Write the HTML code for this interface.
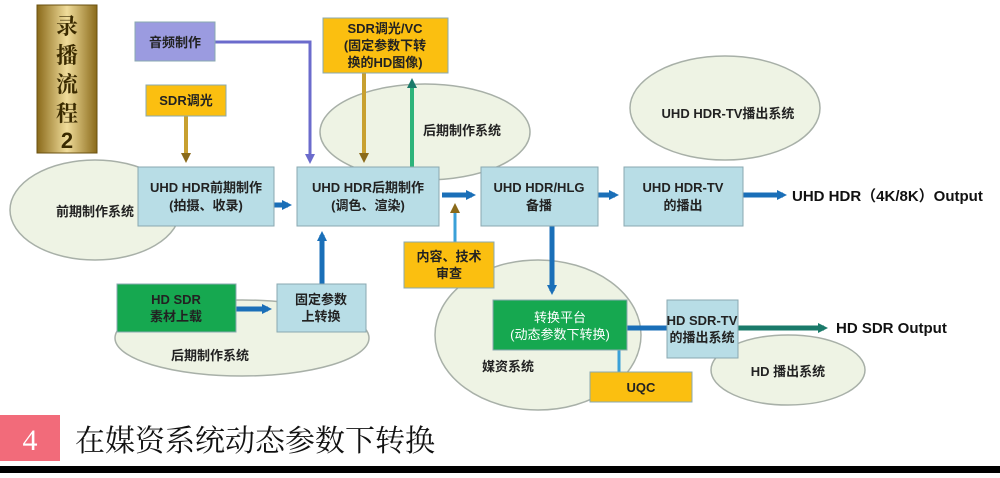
<!DOCTYPE html>
<html><head><meta charset="utf-8"><style>
body{margin:0;background:#fff;width:1000px;height:473px;overflow:hidden}
text{font-family:"Liberation Sans","Noto Sans CJK SC",sans-serif;font-weight:bold}
</style></head><body>
<svg width="1000" height="473" viewBox="0 0 1000 473" xmlns="http://www.w3.org/2000/svg">
<defs>
<linearGradient id="gold" x1="0" x2="1"><stop offset="0" stop-color="#8a6a1a"/><stop offset="0.5" stop-color="#f0dc9a"/><stop offset="1" stop-color="#8a6a1a"/></linearGradient>
<marker id="ab" markerWidth="10" markerHeight="10" refX="6" refY="5" orient="auto" markerUnits="userSpaceOnUse"><path d="M0,0L10,5L0,10z" fill="#1a6fb8"/></marker>
<marker id="ag" markerWidth="10" markerHeight="10" refX="6" refY="5" orient="auto" markerUnits="userSpaceOnUse"><path d="M0,0L10,5L0,10z" fill="#8a6a1a"/></marker>
<marker id="ap" markerWidth="10" markerHeight="10" refX="6" refY="5" orient="auto" markerUnits="userSpaceOnUse"><path d="M0,0L10,5L0,10z" fill="#6b6bcc"/></marker>
<marker id="at" markerWidth="10" markerHeight="10" refX="6" refY="5" orient="auto" markerUnits="userSpaceOnUse"><path d="M0,0L10,5L0,10z" fill="#1a7a6a"/></marker>
</defs>
<g fill="#eef3e4" stroke="#a8b0a8" stroke-width="1.5">
<ellipse cx="95" cy="210" rx="85" ry="50"/>
<ellipse cx="425" cy="132" rx="105" ry="48"/>
<ellipse cx="725" cy="108" rx="95" ry="52"/>
<ellipse cx="242" cy="338" rx="127" ry="38"/>
<ellipse cx="538" cy="335" rx="103" ry="75"/>
<ellipse cx="788" cy="370" rx="77" ry="35"/>
</g>
<rect x="37" y="5" width="60" height="148" fill="url(#gold)" stroke="#6a5010"/>
<g font-size="22" fill="#3a2a00" text-anchor="middle" style="font-weight:normal">
<text x="67" y="34" style="font-family:'Noto Serif CJK SC',serif">录</text>
<text x="67" y="63" style="font-family:'Noto Serif CJK SC',serif">播</text>
<text x="67" y="92" style="font-family:'Noto Serif CJK SC',serif">流</text>
<text x="67" y="121" style="font-family:'Noto Serif CJK SC',serif">程</text>
<text x="67" y="148" font-weight="bold">2</text></g>
<path d="M215,42H310V160" fill="none" stroke="#6b6bcc" stroke-width="3" marker-end="url(#ap)"/>
<line x1="186" y1="116" x2="186" y2="159" stroke="#c8a030" stroke-width="4" marker-end="url(#ag)"/>
<line x1="364" y1="73" x2="364" y2="159" stroke="#c8a030" stroke-width="4" marker-end="url(#ag)"/>
<line x1="412" y1="167" x2="412" y2="82" stroke="#2db37a" stroke-width="4" marker-end="url(#at)"/>
<line x1="252" y1="205" x2="288" y2="205" stroke="#1a6fb8" stroke-width="5" marker-end="url(#ab)"/>
<line x1="442" y1="195" x2="472" y2="195" stroke="#1a6fb8" stroke-width="5" marker-end="url(#ab)"/>
<line x1="598" y1="195" x2="615" y2="195" stroke="#1a6fb8" stroke-width="5" marker-end="url(#ab)"/>
<line x1="743" y1="195" x2="783" y2="195" stroke="#1a6fb8" stroke-width="5" marker-end="url(#ab)"/>
<line x1="455" y1="242" x2="455" y2="207" stroke="#3aa0d8" stroke-width="3" marker-end="url(#ag)"/>
<line x1="322" y1="284" x2="322" y2="235" stroke="#1a6fb8" stroke-width="5" marker-end="url(#ab)"/>
<line x1="236" y1="309" x2="268" y2="309" stroke="#1a6fb8" stroke-width="5" marker-end="url(#ab)"/>
<line x1="552" y1="226" x2="552" y2="291" stroke="#1a6fb8" stroke-width="5" marker-end="url(#ab)"/>
<line x1="627" y1="328" x2="667" y2="328" stroke="#1a6fb8" stroke-width="5"/>
<line x1="619" y1="372" x2="619" y2="337" stroke="#3aa0d8" stroke-width="3" marker-end="url(#ag)"/>
<line x1="738" y1="328" x2="824" y2="328" stroke="#1a7a6a" stroke-width="5" marker-end="url(#at)"/>
<g stroke="#8aa8b0" stroke-width="1">
<rect x="135" y="22" width="80" height="39" fill="#9b9be0"/>
<rect x="146" y="85" width="80" height="31" fill="#fbbf10"/>
<rect x="323" y="18" width="125" height="55" fill="#fbbf10"/>
<rect x="138" y="167" width="136" height="59" fill="#b8dde6"/>
<rect x="297" y="167" width="142" height="59" fill="#b8dde6"/>
<rect x="481" y="167" width="117" height="59" fill="#b8dde6"/>
<rect x="624" y="167" width="119" height="59" fill="#b8dde6"/>
<rect x="404" y="242" width="90" height="46" fill="#fbbf10"/>
<rect x="117" y="284" width="119" height="48" fill="#16a850"/>
<rect x="277" y="284" width="89" height="48" fill="#b8dde6"/>
<rect x="493" y="300" width="134" height="50" fill="#16a850"/>
<rect x="667" y="300" width="71" height="58" fill="#b8dde6"/>
<rect x="590" y="372" width="102" height="30" fill="#fbbf10"/>
</g>
<g font-size="13" fill="#222" text-anchor="middle">
<text x="175" y="47">音频制作</text>
<text x="186" y="105">SDR调光</text>
<text x="385" y="33">SDR调光/VC</text>
<text x="385" y="50">(固定参数下转</text>
<text x="385" y="67">换的HD图像)</text>
<text x="206" y="192">UHD HDR前期制作</text>
<text x="206" y="210">(拍摄、收录)</text>
<text x="368" y="192">UHD HDR后期制作</text>
<text x="368" y="210">(调色、渲染)</text>
<text x="539" y="192">UHD HDR/HLG</text>
<text x="539" y="210">备播</text>
<text x="683" y="192">UHD HDR-TV</text>
<text x="683" y="210">的播出</text>
<text x="449" y="261">内容、技术</text>
<text x="449" y="278">审查</text>
<text x="176" y="304">HD SDR</text>
<text x="176" y="321">素材上载</text>
<text x="321" y="304">固定参数</text>
<text x="321" y="321">上转换</text>
<text x="560" y="322" fill="#fff" style="font-weight:normal">转换平台</text>
<text x="560" y="339" fill="#fff" style="font-weight:normal">(动态参数下转换)</text>
<text x="702" y="325">HD SDR-TV</text>
<text x="702" y="342">的播出系统</text>
<text x="641" y="392">UQC</text>
<text x="95" y="216">前期制作系统</text>
<text x="462" y="135">后期制作系统</text>
<text x="728" y="118">UHD HDR-TV播出系统</text>
<text x="210" y="360">后期制作系统</text>
<text x="508" y="371">媒资系统</text>
<text x="788" y="376">HD 播出系统</text>
</g>
<text x="792" y="201" font-size="15" fill="#111">UHD HDR（4K/8K）Output</text>
<text x="836" y="333" font-size="15" fill="#111">HD SDR Output</text>
<rect x="0" y="415" width="60" height="46" fill="#f26b7a"/>
<text x="30" y="450" font-size="30" fill="#fff" text-anchor="middle" style="font-weight:normal;font-family:'Liberation Serif',serif">4</text>
<text x="75" y="451" font-size="30" fill="#111" style="font-weight:normal;font-family:'Liberation Serif','Noto Serif CJK SC',serif">在媒资系统动态参数下转换</text>
<rect x="0" y="466" width="1000" height="7" fill="#000"/>
</svg>
</body></html>
